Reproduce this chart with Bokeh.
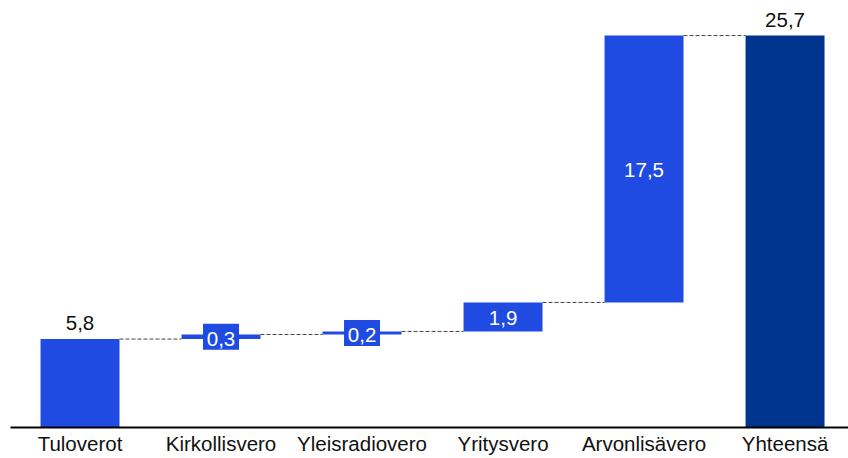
from bokeh.plotting import figure
from bokeh.models import FixedTicker, ColumnDataSource, Range1d
from bokeh.core.properties import value
from bokeh.embed import file_html
from bokeh.resources import INLINE

categories = ["Tuloverot", "Kirkollisvero", "Yleisradiovero", "Yritysvero", "Arvonlisävero", "Yhteensä"]
values = [5.8, 0.3, 0.2, 1.9, 17.5, 25.7]
labels = ["5,8", "0,3", "0,2", "1,9", "17,5", "25,7"]
is_total = [False, False, False, False, False, True]

FONT = "Liberation Sans"
BLUE = "#1F4BE3"
DARK = "#00358F"

xs = list(range(len(categories)))
bottoms, tops = [], []
run = 0.0
for v, t in zip(values, is_total):
    if t:
        bottoms.append(0.0)
        tops.append(v)
        run = v
    else:
        bottoms.append(run)
        run += v
        tops.append(run)

p = figure(frame_width=838, frame_height=427, output_backend="svg", toolbar_location=None,
           x_range=Range1d(-0.493, 5.45), y_range=Range1d(0, 28.0),
           min_border_left=10, min_border_right=0, min_border_top=0, min_border_bottom=0)
p.outline_line_color = None
p.grid.grid_line_color = None
p.yaxis.visible = False

colors = [DARK if t else BLUE for t in is_total]
src = ColumnDataSource(dict(x=xs, b=bottoms, t=tops, c=colors))
p.vbar(x="x", bottom="b", top="t", width=0.56, fill_color="c", line_color=None, source=src)

# connectors
for i in range(len(xs) - 1):
    p.segment(x0=xs[i] + 0.28, y0=tops[i], x1=xs[i + 1] - 0.28, y1=tops[i],
              line_color="#444444", line_width=1, line_dash="4 2")

# labels
for i, (lab, b, t) in enumerate(zip(labels, bottoms, tops)):
    if i == 0 or is_total[i]:
        p.text(x=[xs[i]], y=[t], text=[lab], text_align="center", text_baseline="bottom",
               y_offset=-9, text_font=value(FONT), text_font_size="20.5px", text_color="#111111")
    elif values[i] < 1:
        mid = (b + t) / 2
        p.rect(x=[xs[i]], y=[mid], width=36, height=26, width_units="screen", height_units="screen",
               fill_color=BLUE, line_color=None)
        p.text(x=[xs[i]], y=[mid], text=[lab], text_align="center", text_baseline="middle",
               y_offset=2, text_font=value(FONT), text_font_size="20.5px", text_color="white")
    else:
        mid = (b + t) / 2
        p.text(x=[xs[i]], y=[mid], text=[lab], text_align="center", text_baseline="middle",
               y_offset=1, text_font=value(FONT), text_font_size="20.5px", text_color="white")

p.xaxis.ticker = FixedTicker(ticks=xs)
p.xaxis.major_label_overrides = {i: c for i, c in enumerate(categories)}
p.xaxis.major_tick_line_color = None
p.xaxis.major_tick_out = 0
p.xaxis.major_tick_in = 0
p.xaxis.minor_tick_line_color = None
p.xaxis.axis_line_color = "black"
p.xaxis.axis_line_width = 2
p.xaxis.major_label_text_font = FONT
p.xaxis.major_label_text_font_size = "20.5px"
p.xaxis.major_label_text_color = "#111111"
p.xaxis.major_label_standoff = 4

open("out.html", "w").write(file_html(p, INLINE))
